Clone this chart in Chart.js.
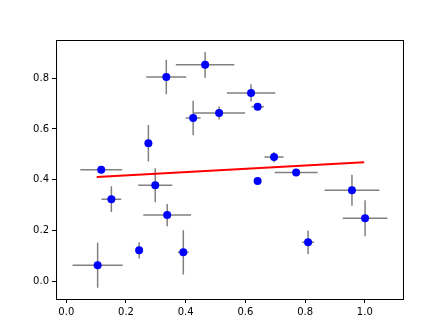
<!DOCTYPE html>
<html>
<head>
<meta charset="utf-8">
<script src="https://cdn.jsdelivr.net/npm/chart.js@4"></script>
<style>
  body { margin: 0; background: #fff; }
  #c { display: block; }
</style>
</head>
<body>
<canvas id="c" width="448" height="336"></canvas>
<script>
// data
const xVals = [0.105, 0.117, 0.151, 0.244, 0.275, 0.298, 0.335, 0.338, 0.392, 0.425, 0.465, 0.512, 0.619, 0.641, 0.641, 0.696, 0.770, 0.810, 0.957, 1.001];
const yVals = [0.062, 0.439, 0.323, 0.121, 0.544, 0.378, 0.805, 0.260, 0.113, 0.643, 0.853, 0.663, 0.742, 0.688, 0.395, 0.489, 0.428, 0.153, 0.358, 0.248];
const xErr = [0.084, 0.070, 0.033, 0.004, 0.003, 0.057, 0.067, 0.080, 0.018, 0.025, 0.098, 0.087, 0.081, 0.021, 0.005, 0.032, 0.072, 0.020, 0.092, 0.075];
const yErr = [0.089, 0.008, 0.051, 0.032, 0.072, 0.067, 0.068, 0.044, 0.087, 0.068, 0.051, 0.026, 0.034, 0.012, 0.012, 0.020, 0.008, 0.046, 0.061, 0.071];
const fitX = [0.102, 0.998];
const fitY = [0.410, 0.469];
const xTicks = [0.0, 0.2, 0.4, 0.6, 0.8, 1.0];
const yTicks = [0.0, 0.2, 0.4, 0.6, 0.8];

const points = xVals.map((x, i) => ({ x: x, y: yVals[i] }));

// error bars as broken line segments (null y breaks the line)
const errSegs = [];
xVals.forEach((x, i) => {
  const y = yVals[i];
  errSegs.push({ x: x - xErr[i], y: y }, { x: x + xErr[i], y: y }, { x: x + xErr[i], y: null });
  errSegs.push({ x: x, y: y - yErr[i] }, { x: x, y: y + yErr[i] }, { x: x, y: null });
});

const fitLine = fitX.map((x, i) => ({ x: x, y: fitY[i] }));

const frame = {
  id: "frame",
  afterDraw(chart) {
    const a = chart.chartArea;
    const ctx = chart.ctx;
    ctx.save();
    ctx.strokeStyle = "#000";
    ctx.lineWidth = 1;
    ctx.strokeRect(Math.round(a.left) + 0.5, Math.round(a.top) + 0.5, Math.round(a.right - a.left), Math.round(a.bottom - a.top));
    ctx.restore();
  },
};

const tickFont = { family: "DejaVu Sans", size: 10 };

new Chart(document.getElementById("c").getContext("2d"), {
  type: "scatter",
  data: {
    datasets: [
      {
        // fitted line, on top
        data: fitLine,
        showLine: true,
        borderColor: "red",
        borderWidth: 2,
        pointRadius: 0,
      },
      {
        data: points,
        backgroundColor: "blue",
        borderColor: "blue",
        pointRadius: 4,
        borderWidth: 0,
      },
      {
        data: errSegs,
        showLine: true,
        spanGaps: false,
        borderColor: "gray",
        borderWidth: 1.5,
        pointRadius: 0,
      },
    ],
  },
  options: {
    responsive: false,
    animation: false,
    layout: { padding: { left: 0, right: 45, top: 40, bottom: 0 } },
    plugins: { legend: { display: false }, tooltip: { enabled: false } },
    scales: {
      x: {
        type: "linear",
        min: -0.0345,
        max: 1.128,
        border: { display: false },
        grid: { drawOnChartArea: false, color: "#000", tickLength: 4 },
        afterBuildTicks: (s) => { s.ticks = xTicks.map((v) => ({ value: v })); },
        afterFit: (s) => { s.height = 37; },
        ticks: {
          color: "#000",
          font: tickFont,
          padding: 3,
          maxRotation: 0,
          callback: (v) => v.toFixed(1),
        },
      },
      y: {
        type: "linear",
        min: -0.071,
        max: 0.951,
        border: { display: false },
        grid: { drawOnChartArea: false, color: "#000", tickLength: 4 },
        afterBuildTicks: (s) => { s.ticks = yTicks.map((v) => ({ value: v })); },
        afterFit: (s) => { s.width = 56; },
        ticks: {
          color: "#000",
          font: tickFont,
          padding: 3,
          callback: (v) => v.toFixed(1),
        },
      },
    },
  },
  plugins: [frame],
});
</script>
</body>
</html>
